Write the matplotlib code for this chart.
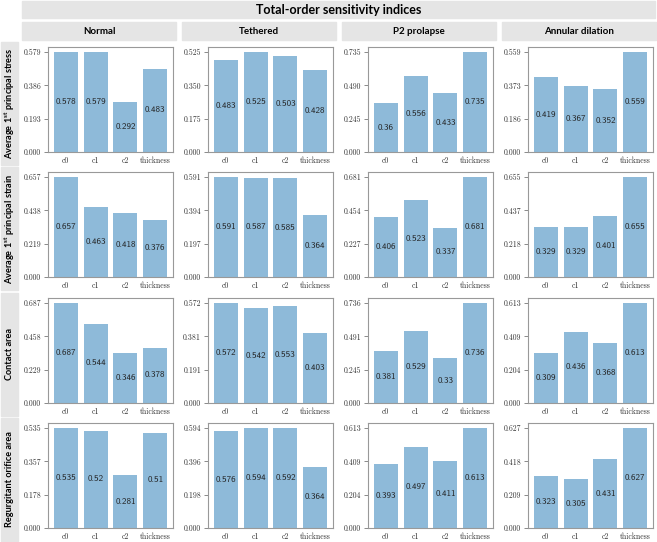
import matplotlib
matplotlib.use('Agg')
import matplotlib.pyplot as plt
from matplotlib.patches import Rectangle
import numpy as np

plt.rcParams['mathtext.fontset'] = 'custom'
plt.rcParams['mathtext.bf'] = 'Lato:bold'

params = ['c0', 'c1', 'c2', 'thickness']
scenarios = ['Normal', 'Tethered', 'P2 prolapse', 'Annular dilation']
outputs = ['Average 1$^{\\mathbf{st}}$ principal stress',
           'Average 1$^{\\mathbf{st}}$ principal strain',
           'Contact area',
           'Regurgitant orifice area']

# rows: outputs, columns: scenarios
stress = [[0.578, 0.579, 0.292, 0.483],
          [0.483, 0.525, 0.503, 0.428],
          [0.36, 0.556, 0.433, 0.735],
          [0.419, 0.367, 0.352, 0.559]]
strain = [[0.657, 0.463, 0.418, 0.376],
          [0.591, 0.587, 0.585, 0.364],
          [0.406, 0.523, 0.337, 0.681],
          [0.329, 0.329, 0.401, 0.655]]
contact = [[0.687, 0.544, 0.346, 0.378],
           [0.572, 0.542, 0.553, 0.403],
           [0.381, 0.529, 0.33, 0.736],
           [0.309, 0.436, 0.368, 0.613]]
regurg = [[0.535, 0.52, 0.281, 0.51],
          [0.576, 0.594, 0.592, 0.364],
          [0.393, 0.497, 0.411, 0.613],
          [0.323, 0.305, 0.431, 0.627]]
data = [stress, strain, contact, regurg]

W, H = 657, 542
fig = plt.figure(figsize=(W/100, H/100), dpi=100)

def box(x0, y0, x1, y1):
    return [x0/W, 1 - y1/H, (x1 - x0)/W, (y1 - y0)/H]

def gray(x0, y0, x1, y1):
    r = Rectangle((x0/W, 1 - y1/H), (x1 - x0)/W, (y1 - y0)/H,
                  transform=fig.transFigure, color='#e5e5e5', zorder=0)
    fig.add_artist(r)

# title
gray(22, 1, 655, 18)
fig.text((22 + 655)/2/W, 1 - 9.5/H, 'Total-order sensitivity indices',
         ha='center', va='center', fontsize=9, fontweight='bold', family='Lato')

col_left = [22, 182, 342, 502]
ax_left = [48, 208, 368, 528]
ax_w = 125
ax_top = [47, 172, 298, 423]
ax_h = 105

for j, s in enumerate(scenarios):
    gray(col_left[j], 22, col_left[j] + 154, 40)
    fig.text((col_left[j] + 77)/W, 1 - 31/H, s, ha='center', va='center',
             fontsize=7, fontweight='bold', family='Lato')

for i, o in enumerate(outputs):
    gray(1, ax_top[i] - 5, 18, ax_top[i] + ax_h + 13)
    fig.text(9.5/W, 1 - (ax_top[i] + ax_h/2 + 4)/H, o, rotation=90,
             ha='center', va='center', fontsize=6.6, fontweight='bold', family='Lato')
    for j in range(4):
        vals = data[i][j]
        ax = fig.add_axes(box(ax_left[j], ax_top[i], ax_left[j] + ax_w, ax_top[i] + ax_h))
        x = np.arange(len(params))
        ax.bar(x, vals, width=0.8, color='tab:blue', alpha=0.5)
        for k, v in enumerate(vals):
            ax.text(x[k], v/2, f'{v:g}', ha='center', va='center', fontsize=6.5,
                    family='cmss10', color='#222')
        m = max(vals)
        ticks = np.linspace(0, m, 4)
        ax.set_ylim(0, m*1.05)
        ax.set_yticks(ticks)
        ax.set_yticklabels([f'{t:.3f}' for t in ticks], fontfamily='cmr10', fontsize=5.6, color='#333')
        ax.set_xticks(x)
        ax.set_xticklabels(params, fontfamily='cmr10', fontsize=5.6, color='#333')
        ax.tick_params(axis='x', length=0, pad=3)
        ax.tick_params(axis='y', length=3, width=0.6, color='#777', pad=2)
        for sp in ax.spines.values():
            sp.set_color('#999999')
            sp.set_linewidth(0.8)

plt.savefig('out.png', dpi=100)
